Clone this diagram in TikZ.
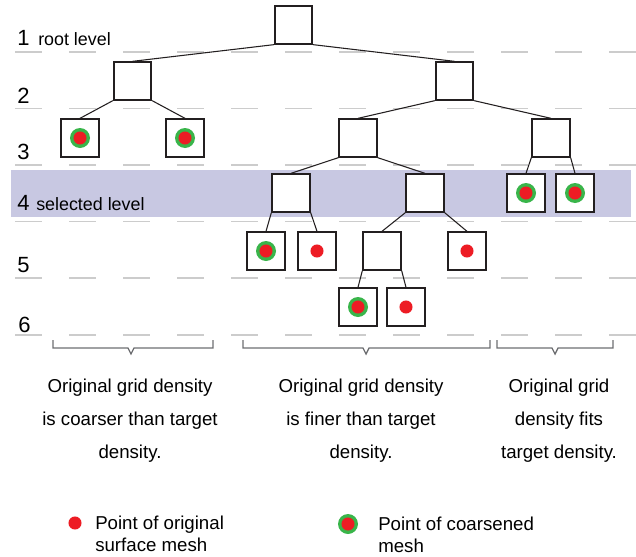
\documentclass[tikz,border=0pt]{standalone}
\usepackage{fontspec}
\setmainfont{Liberation Sans}
\usepackage{xcolor}

\definecolor{boxline}{RGB}{35,31,32}
\definecolor{dashgray}{RGB}{204,204,204}
\definecolor{bandblue}{RGB}{200,200,226}
\definecolor{bracegray}{RGB}{109,110,113}
\definecolor{meshred}{RGB}{237,28,36}
\definecolor{meshgreen}{RGB}{57,181,74}

\tikzset{
  cell/.style={draw=boxline,line width=1.5pt,fill=white,minimum size=28pt,inner sep=0pt},
  link/.style={draw=boxline,line width=0.8pt},
  levelline/.style={draw=dashgray,line width=1.1pt,dash pattern=on 20.25pt off 20.25pt},
  brace/.style={draw=bracegray,line width=1pt},
  lvlnum/.style={anchor=base west,inner sep=0pt,font=\fontsize{16.5}{18}\selectfont},
  lvltext/.style={anchor=base west,inner sep=0pt,font=\fontsize{13.4}{15}\selectfont},
  note/.style={align=center,inner sep=0pt,font=\fontsize{14}{24.75}\selectfont},
  legend/.style={anchor=west,align=left,inner sep=0pt,font=\fontsize{14}{16.5}\selectfont}
}

\begin{document}
\begin{tikzpicture}[x=0.75pt,y=0.75pt,yscale=-1,xscale=1]
\useasboundingbox (0,0) rectangle (636,557);

%selected level band
    \fill[bandblue] (11,170) rectangle (631,217);

%level separators
    \foreach \y in {52,108.5,165,221.5,278,335}
        \draw[levelline] (15,\y) -- (636,\y);

%level numbers
    \node[lvlnum] (l1) at (17,45) {1};
    \node[lvltext] (l1t) at (38,45) {root level};
    \node[lvlnum] (l2) at (17,103) {2};
    \node[lvlnum] (l3) at (17,159) {3};
    \node[lvlnum] (l4) at (17,210) {4};
    \node[lvltext] (l4t) at (36,210) {selected level};
    \node[lvlnum] (l5) at (17,272) {5};
    \node[lvlnum] (l6) at (18,332) {6};

%tree cells
    \node[cell] (r) at (293.5,25) {};
    \node[cell] (a) at (132.5,81) {};
    \node[cell] (b) at (454.5,81) {};
    \node[cell] (aa) at (80,138) {};
    \node[cell] (ab) at (185,138) {};
    \node[cell] (ba) at (358,138) {};
    \node[cell] (bb) at (551,138) {};
    \node[cell] (baa) at (291,193) {};
    \node[cell] (bab) at (425,193) {};
    \node[cell] (bba) at (526,193) {};
    \node[cell] (bbb) at (575,193) {};
    \node[cell] (baaa) at (266,251) {};
    \node[cell] (baab) at (317,251) {};
    \node[cell] (baba) at (382,251) {};
    \node[cell] (babb) at (467,251) {};
    \node[cell] (babaa) at (358,307) {};
    \node[cell] (babab) at (406,307) {};

%tree edges
    \draw[link] (r.south west) -- (a.north);
    \draw[link] (r.south east) -- (b.north);
    \draw[link] (a.south west) -- (aa.north);
    \draw[link] (a.south east) -- (ab.north);
    \draw[link] (b.south west) -- (ba.north);
    \draw[link] (b.south east) -- (bb.north);
    \draw[link] (ba.south west) -- (baa.north);
    \draw[link] (ba.south east) -- (bab.north);
    \draw[link] (bb.south west) -- (bba.north);
    \draw[link] (bb.south east) -- (bbb.north);
    \draw[link] (baa.south west) -- (baaa.north);
    \draw[link] (baa.south east) -- (baab.north);
    \draw[link] (bab.south west) -- (baba.north);
    \draw[link] (bab.south east) -- (babb.north);
    \draw[link] (baba.south west) -- (babaa.north);
    \draw[link] (baba.south east) -- (babab.north);

%mesh points
    \foreach \n in {aa,ab,bba,bbb,baaa,babaa}
        \fill[meshgreen] (\n) circle (7.5pt);
    \foreach \n in {aa,ab,bba,bbb,baaa,babaa,baab,babb,babab}
        \fill[meshred] (\n) circle (4.9pt);

%braces
    \draw[brace] (53,340) -- (53,348) -- (128,348) -- (131,354) -- (134,348) -- (213,348) -- (213,340);
    \draw[brace] (243,340) -- (243,348) -- (363,348) -- (366,354) -- (369,348) -- (490,348) -- (490,340);
    \draw[brace] (497,340) -- (497,348) -- (552,348) -- (555,354) -- (558,348) -- (613,348) -- (613,340);

% Text Node
    \node[note] (coarser) at (130,421) {Original grid density\\is coarser than target\\density.};
% Text Node
    \node[note] (finer) at (361,421) {Original grid density\\is finer than target\\density.};
% Text Node
    \node[note] (fits) at (559,421) {Original grid\\density fits\\target density.};

%legend
    \fill[meshred] (75,523) circle (4.9pt);
    \node[legend] (origpt) at (95,534) {Point of original\\surface mesh};
    \fill[meshgreen] (348,524) circle (7.5pt);
    \fill[meshred] (348,524) circle (4.9pt);
    \node[legend] (coarsept) at (378,535) {Point of coarsened\\mesh};

\end{tikzpicture}
\end{document}
